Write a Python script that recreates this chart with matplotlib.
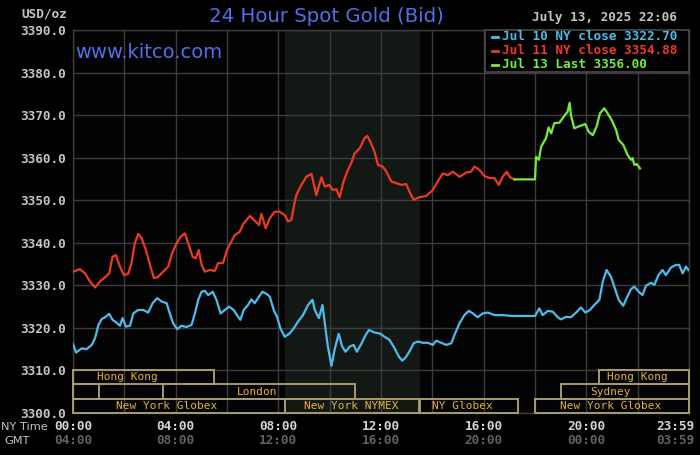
import matplotlib
matplotlib.use("Agg")
import matplotlib.pyplot as plt
import matplotlib.transforms as mtrans
from matplotlib.patches import Rectangle
from matplotlib.lines import Line2D

# ---------------- data ----------------
title = "24 Hour Spot Gold (Bid)"
site = "www.kitco.com"
unit = "USD/oz"
stamp = "July 13, 2025 22:06"
legend_labels = ["Jul 10 NY close 3322.70", "Jul 11 NY close 3354.88", "Jul 13 Last 3356.00"]

y_ticks = [3300, 3310, 3320, 3330, 3340, 3350, 3360, 3370, 3380, 3390]
x_tick_hours = [0, 4, 8, 12, 16, 20, 24]
ny_labels = ["00:00", "04:00", "08:00", "12:00", "16:00", "20:00", "23:59"]
gmt_labels = ["04:00", "08:00", "12:00", "16:00", "20:00", "00:00", "03:59"]

blue_hours = [0.00, 0.12, 0.34, 0.53, 0.73, 0.86, 0.99, 1.12, 1.25, 1.41,
              1.54, 1.70, 1.83, 1.93, 2.06, 2.22, 2.35, 2.54, 2.74, 2.93,
              3.10, 3.28, 3.45, 3.65, 3.77, 3.90, 4.06, 4.23, 4.42, 4.62,
              4.75, 4.88, 5.01, 5.14, 5.27, 5.44, 5.59, 5.75, 5.91, 6.08,
              6.26, 6.43, 6.52, 6.65, 6.82, 6.95, 7.08, 7.21, 7.38, 7.54,
              7.67, 7.82, 7.95, 8.08, 8.25,
              8.44, 8.60, 8.77, 8.96, 9.16, 9.33, 9.42, 9.58, 9.72, 9.81,
              9.93, 10.07, 10.19, 10.35, 10.49, 10.62, 10.78, 10.93, 11.06, 11.23,
              11.40, 11.53, 11.75, 11.95, 12.14, 12.33, 12.53, 12.70, 12.83, 12.98,
              13.14, 13.27, 13.44, 13.63, 13.83, 14.02, 14.15, 14.35, 14.54, 14.74,
              14.86, 15.06, 15.25, 15.42, 15.58, 15.77, 15.96, 16.16, 16.42, 16.74,
              17.13,
              18.00, 18.17, 18.30, 18.50, 18.69, 18.89, 19.01, 19.21, 19.40, 19.60,
              19.79, 19.96, 20.14, 20.31, 20.51, 20.64, 20.79, 20.96, 21.09, 21.26,
              21.44, 21.57, 21.74, 21.87, 22.04, 22.19, 22.32, 22.52, 22.65, 22.81,
              22.97, 23.10, 23.30, 23.49, 23.62, 23.75, 23.88, 23.98]
blue_prices = [3316.2, 3314.2, 3315.2, 3315.0, 3316.0, 3317.6, 3320.7, 3322.1, 3322.5, 3323.3,
               3321.9, 3321.2, 3320.5, 3322.3, 3320.3, 3320.5, 3323.4, 3324.2, 3324.2, 3323.6,
               3325.8, 3327.0, 3326.2, 3325.8, 3323.4, 3321.1, 3319.7, 3320.5, 3320.2, 3320.7,
               3323.4, 3326.6, 3328.5, 3328.7, 3327.7, 3328.5, 3326.6, 3323.4, 3324.2, 3325.0,
               3324.2, 3322.6, 3321.9, 3324.2, 3325.4, 3326.7, 3325.8, 3327.0, 3328.5, 3328.0,
               3327.3, 3324.2, 3322.6, 3319.9, 3317.9,
               3318.7, 3319.9, 3321.5, 3323.0, 3325.4, 3326.6, 3324.2, 3322.3, 3325.4, 3321.1,
               3315.6, 3311.1, 3314.8, 3318.6, 3315.6, 3314.4, 3315.6, 3316.0, 3314.4, 3316.2,
               3318.3, 3319.5, 3318.9, 3318.7, 3317.9, 3317.2, 3315.2, 3313.2, 3312.3, 3313.2,
               3314.8, 3316.4, 3316.8, 3316.5, 3316.5, 3316.0, 3317.0, 3316.5, 3316.0, 3316.4,
               3318.3, 3321.1, 3323.0, 3324.0, 3323.4, 3322.5, 3323.4, 3323.6, 3323.0, 3323.0,
               3322.8,
               3322.8, 3324.6, 3323.0, 3324.0, 3323.8, 3322.5, 3322.0, 3322.6, 3322.5, 3323.6,
               3324.8, 3323.6, 3324.2, 3325.4, 3326.6, 3330.9, 3333.6, 3332.0, 3329.7, 3326.6,
               3325.2, 3327.0, 3329.1, 3329.7, 3328.5, 3327.7, 3329.9, 3330.6, 3330.1, 3332.4,
               3333.6, 3332.4, 3334.2, 3334.8, 3334.8, 3332.8, 3334.4, 3333.6]

red_hours = [0.00, 0.27, 0.47, 0.66, 0.86, 1.05, 1.25, 1.41, 1.54, 1.67,
             1.83, 1.98, 2.15, 2.28, 2.41, 2.54, 2.67, 2.84, 3.00, 3.15,
             3.32, 3.51, 3.71, 3.84, 4.00, 4.19, 4.36, 4.49, 4.66, 4.79,
             4.90, 5.01, 5.14, 5.33, 5.53, 5.65, 5.85, 6.00, 6.17, 6.30,
             6.50, 6.63, 6.89, 7.08, 7.25, 7.34, 7.51, 7.67, 7.86, 8.05,
             8.25, 8.38, 8.51, 8.60, 8.70, 8.90, 9.09, 9.29, 9.48, 9.68,
             9.81, 9.98, 10.13, 10.26, 10.39, 10.54, 10.71, 10.84, 10.97, 11.17,
             11.36, 11.47, 11.58, 11.75, 11.88, 12.07, 12.21, 12.40, 12.60, 12.79,
             12.98, 13.11, 13.27, 13.50, 13.76, 14.02, 14.21, 14.41, 14.60, 14.80,
             15.06, 15.32, 15.51, 15.64, 15.84, 16.03, 16.23, 16.42, 16.59, 16.74,
             16.90, 17.03, 17.20]
red_prices = [3333.2, 3333.8, 3332.8, 3330.9, 3329.5, 3330.9, 3331.9, 3332.8, 3336.7, 3337.1,
              3334.4, 3332.4, 3332.7, 3335.2, 3339.9, 3342.1, 3341.1, 3338.3, 3334.8, 3331.7,
              3332.0, 3333.2, 3334.4, 3337.1, 3339.5, 3341.4, 3342.2, 3339.9, 3336.7, 3336.4,
              3338.3, 3334.8, 3333.2, 3333.6, 3333.4, 3335.2, 3335.3, 3338.3, 3340.3, 3341.8,
              3342.6, 3344.4, 3346.3, 3345.2, 3344.2, 3346.8, 3343.4, 3345.8, 3347.3, 3347.3,
              3346.5, 3345.0, 3345.4, 3348.5, 3351.2, 3353.6, 3355.5, 3356.2, 3351.2, 3355.4,
              3353.2, 3353.6, 3352.4, 3352.6, 3350.7, 3354.4, 3357.1, 3358.7, 3361.0, 3362.2,
              3364.6, 3365.1, 3363.8, 3361.4, 3358.3, 3357.9, 3356.7, 3354.4, 3354.0, 3353.6,
              3353.8, 3352.0, 3350.1, 3350.7, 3351.0, 3352.4, 3354.4, 3356.3, 3355.9, 3356.7,
              3355.5, 3356.5, 3356.7, 3357.9, 3357.1, 3355.7, 3355.2, 3355.2, 3353.6, 3355.5,
              3356.7, 3355.4, 3354.9]

green_hours = [17.20, 18.00, 18.04, 18.15, 18.24, 18.43, 18.53, 18.63, 18.75, 18.95,
               19.14, 19.27, 19.35, 19.40, 19.53, 19.73, 19.96, 20.09, 20.25, 20.40,
               20.53, 20.70, 20.83, 21.00, 21.16, 21.26, 21.44, 21.61, 21.74, 21.80,
               21.87, 21.96, 22.09]
green_prices = [3354.9, 3354.9, 3360.2, 3359.5, 3362.6, 3364.6, 3367.1, 3365.7, 3368.1, 3368.2,
                3369.8, 3370.8, 3372.9, 3370.0, 3366.9, 3367.4, 3367.9, 3366.1, 3365.3, 3367.3,
                3370.4, 3371.6, 3370.4, 3368.7, 3366.5, 3364.2, 3363.0, 3360.6, 3359.5, 3359.9,
                3358.3, 3358.5, 3357.5]

# trading sessions: name, start hour, end hour, row (0 = top), label hour
session_names = ["Hong Kong", "", "London", "New York Globex", "New York NYMEX",
                 "NY Globex", "New York Globex", "Sydney", "Hong Kong"]
session_starts = [0.0, 0.0, 3.5, 0.0, 8.25, 13.5, 18.0, 19.0, 20.5]
session_ends = [5.5, 1.0, 11.0, 8.25, 13.5, 17.33, 24.0, 24.0, 24.0]
session_rows = [0, 1, 1, 2, 2, 2, 2, 1, 0]
session_label_x = [2.1, 0.5, 7.16, 3.66, 10.85, 15.16, 20.95, 20.95, 22.0]
nymex_span = (8.25, 13.5)

# ---------------- style ----------------
W, H = 700, 455
BG = "#000000"
GRID = "#3c3c3c"
BLUE = "#4cbcec"
RED = "#ec3a22"
GREEN = "#74ec3c"
TITLE_C = "#5070ea"
GREY = "#c4c4c4"
DGREY = "#626262"
BOX_EDGE = "#a49c6c"
BOX_TXT = "#e4b42c"
MONO = "DejaVu Sans Mono"

def fx(px):
    return px / W

def fy(py):
    return 1 - py / H

fig = plt.figure(figsize=(7.0, 4.55), dpi=100, facecolor=BG)
ax = fig.add_axes([fx(73), fy(413), fx(689) - fx(73), fy(30) - fy(413)])
ax.set_facecolor("#030303")
ax.set_xlim(0, 24)
ax.set_ylim(3300, 3390)

ax.axvspan(nymex_span[0], nymex_span[1], color="#141814", zorder=0.1, lw=0)

ax.set_xticks(range(0, 25, 2))
ax.set_xticklabels([])
ax.set_yticks(y_ticks)
ax.set_yticklabels([f"{v:.1f}" for v in y_ticks], fontfamily=MONO, fontsize=9.2,
                   color=GREY, fontweight="bold")
ax.tick_params(length=0, pad=5)
ax.set_axisbelow(True)
ax.grid(True, color=GRID, lw=1.0, zorder=0.5)
for s in ax.spines.values():
    s.set_color(GRID)
    s.set_linewidth(1.0)

ax.plot(blue_hours, blue_prices, color=BLUE, lw=1.6, zorder=3)
ax.plot(red_hours, red_prices, color=RED, lw=1.6, zorder=3)
ax.plot(green_hours, green_prices, color=GREEN, lw=1.6, zorder=3.5)

# session boxes
row_edges = [3310.0, 3306.8, 3303.3, 3300.0]
for name, s0, s1, r, lx in zip(session_names, session_starts, session_ends,
                               session_rows, session_label_x):
    top, bot = row_edges[r], row_edges[r + 1]
    ax.add_patch(Rectangle((s0, bot), s1 - s0, top - bot, fill=False,
                           edgecolor=BOX_EDGE, lw=1.4, zorder=4, clip_on=False))
    if name:
        ax.text(lx, (top + bot) / 2, name, ha="center", va="center",
                fontfamily=MONO, fontsize=8, color=BOX_TXT, zorder=5)

# time labels
trans_x = mtrans.blended_transform_factory(ax.transData, fig.transFigure)
for i, (h, ny, gmt) in enumerate(zip(x_tick_hours, ny_labels, gmt_labels)):
    if i == len(x_tick_hours) - 1:
        t = trans_x + mtrans.ScaledTranslation(5 / 100, 0, fig.dpi_scale_trans)
        ha = "right"
    else:
        t = trans_x
        ha = "center"
    ax.text(h, fy(426.5), ny, transform=t, ha=ha, va="center", fontfamily=MONO,
            fontsize=9.2, color="#d4d4d4", fontweight="bold", clip_on=False)
    ax.text(h, fy(441), gmt, transform=t, ha=ha, va="center", fontfamily=MONO,
            fontsize=9.2, color=DGREY, fontweight="bold", clip_on=False)
fig.text(fx(48), fy(426.5), "NY Time", ha="right", va="center", fontsize=8.2,
         color=GREY, fontfamily="DejaVu Sans")
fig.text(fx(30), fy(441), "GMT", ha="right", va="center", fontsize=8.2,
         color=GREY, fontfamily="DejaVu Sans")

# header texts
fig.text(fx(66.7), fy(14), unit, ha="right", va="center", fontfamily=MONO,
         fontsize=9.2, color=GREY, fontweight="bold")
fig.text(fx(326), fy(16.5), title, ha="center", va="center", fontsize=14.2,
         color=TITLE_C, fontfamily="DejaVu Sans")
fig.text(fx(75), fy(53), site, ha="left", va="center", fontsize=14,
         color=TITLE_C, fontfamily="DejaVu Sans")
fig.text(fx(677), fy(17), stamp, ha="right", va="center", fontfamily=MONO,
         fontsize=9.2, color=GREY, fontweight="bold")

# legend box
fig.add_artist(Rectangle((fx(485), fy(72)), fx(689) - fx(485), fy(30) - fy(72),
                         transform=fig.transFigure, facecolor="#000000",
                         edgecolor="#4a4a4a", lw=1.2, zorder=2))
for lab, col, py in zip(legend_labels, [BLUE, RED, GREEN], [36.5, 50.7, 64.5]):
    fig.add_artist(Line2D([fx(491.5), fx(498)], [fy(py), fy(py)], color=col, lw=2,
                          transform=fig.transFigure, zorder=3))
    fig.text(fx(502.5), fy(py), lab, ha="left", va="center", fontfamily=MONO,
             fontsize=9.2, color=col, fontweight="bold", zorder=3)

fig.savefig("out.png", dpi=100, facecolor=BG)
